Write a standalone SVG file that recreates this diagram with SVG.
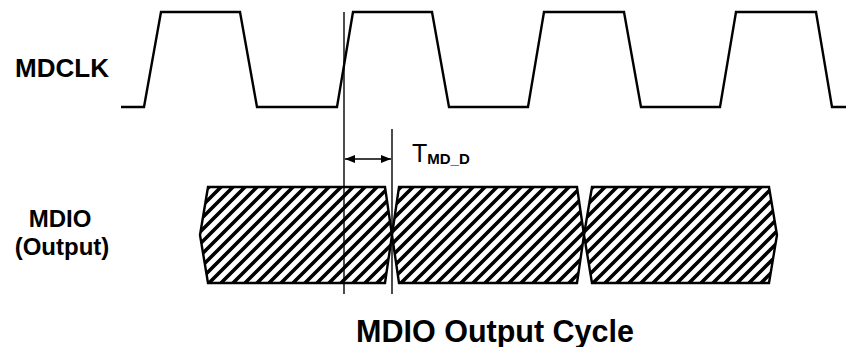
<svg xmlns="http://www.w3.org/2000/svg" width="846" height="347" viewBox="0 0 846 347">
<style>
.lbl{font-family:"Liberation Sans",Arial,sans-serif;font-weight:bold;fill:#000}
.wave{fill:none;stroke:#000;stroke-width:2.4;stroke-linejoin:miter}
.bus{fill:url(#hatch);stroke:#000;stroke-width:2.4;stroke-linejoin:miter}
.thin{stroke:#000;stroke-width:1.4;fill:none}
</style>
<defs>
<pattern id="hatch" patternUnits="userSpaceOnUse" width="12" height="12">
<rect width="12" height="12" fill="#fff"/>
<path d="M-3,3 L3,-3 M0,12 L12,0 M9,15 L15,9" stroke="#000" stroke-width="3.6"/>
</pattern>
<marker id="ah" viewBox="0 0 10 8" refX="10" refY="4" markerWidth="10" markerHeight="8" markerUnits="userSpaceOnUse" orient="auto-start-reverse">
<path d="M0,0 L10,4 L0,8 Z" fill="#000"/>
</marker>
</defs>
<g id="labels">
<text class="lbl" x="62" y="77" font-size="26" text-anchor="middle">MDCLK</text>
<text class="lbl" x="60" y="227" font-size="24" text-anchor="middle">MDIO</text>
<text class="lbl" x="62" y="255" font-size="24" text-anchor="middle">(Output)</text>
<text class="lbl" x="495" y="342" font-size="30.5" text-anchor="middle">MDIO Output Cycle</text>
</g>
<g id="mdclk">
<path class="wave" d="M121,107 L144,107 L161,12 L240,12 L257,107 L337,107 L353,12 L432,12 L449,107 L528,107 L544,12 L624,12 L641,107 L720,107 L736,12 L816,12 L832,107 L846,107"/>
</g>
<g id="mdio">
<polygon class="bus" points="200,235 208,187 385,187 392,235 385,283 208,283"/>
<polygon class="bus" points="392,235 399,187 577,187 584,235 577,283 399,283"/>
<polygon class="bus" points="584,235 592,187 769,187 777,235 769,283 592,283"/>
</g>
<g id="connectors">
<line class="thin" x1="344" y1="12" x2="344" y2="294"/>
<line class="thin" x1="392" y1="129" x2="392" y2="294"/>
<line class="thin" x1="345" y1="159" x2="391" y2="159" marker-start="url(#ah)" marker-end="url(#ah)"/>
</g>
<g id="tmdd">
<text x="412" y="162" font-family="'Liberation Sans',Arial,sans-serif" font-size="25" fill="#000">T<tspan font-size="15" font-weight="bold" dy="2">MD_D</tspan></text>
</g>
</svg>
